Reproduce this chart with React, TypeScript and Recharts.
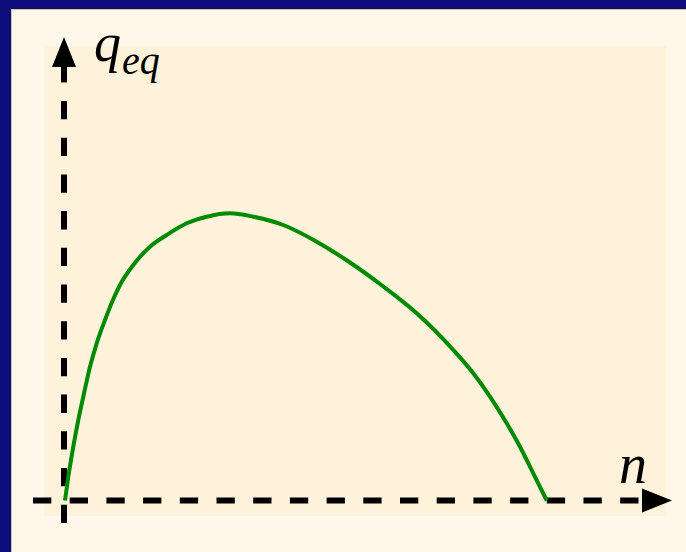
import { LineChart, Line, XAxis, YAxis, ReferenceLine } from 'recharts';

// curve: n along the x axis, q_eq up the y axis
const nValues = [0.01, 0.043, 0.093, 0.143, 0.193, 0.26, 0.327, 0.41, 0.487, 0.56, 0.693, 0.86, 1.027, 1.227, 1.427, 1.66, 1.893, 2.193, 2.527, 2.86, 3.193, 3.527, 3.893, 4.093, 4.26, 4.427, 4.56, 4.693, 4.827];
const qValues = [0, 0.238, 0.538, 0.805, 1.038, 1.338, 1.572, 1.805, 2.0, 2.155, 2.355, 2.538, 2.655, 2.772, 2.838, 2.872, 2.838, 2.755, 2.588, 2.38, 2.14, 1.872, 1.505, 1.272, 1.038, 0.772, 0.538, 0.272, 0];
const xDomain = [-0.31, 6.08];
const yDomain = [-0.225, 4.635];
const xLabel = 'n';
const yLabel = 'q';
const yLabelSub = 'eq';

const data = nValues.map((n, i) => ({ n, q: qValues[i] }));

const ARROW_LEN = 30;
const ARROW_HALF = 12;
const DASH = '18.3 18.4';
const labelFont = '"Liberation Serif", "DejaVu Serif", serif';

function XArrow(props: any) {
  const left = Math.min(props.x1, props.x2);
  const right = Math.max(props.x1, props.x2);
  const y = props.y1;
  return (
    <g>
      <line x1={left} y1={y} x2={right - ARROW_LEN} y2={y} stroke="#000" strokeWidth={6} strokeDasharray={DASH} />
      <polygon points={`${right},${y} ${right - ARROW_LEN},${y - ARROW_HALF} ${right - ARROW_LEN},${y + ARROW_HALF}`} fill="#000" />
      <text x={right - 53} y={y - 18} fontFamily={labelFont} fontStyle="italic" fontSize={56} fill="#000">
        {xLabel}
      </text>
    </g>
  );
}

function YArrow(props: any) {
  const top = Math.min(props.y1, props.y2);
  const bottom = Math.max(props.y1, props.y2);
  const x = props.x1;
  return (
    <g>
      <line x1={x} y1={bottom} x2={x} y2={top + ARROW_LEN} stroke="#000" strokeWidth={6} strokeDasharray={DASH} />
      <polygon points={`${x},${top} ${x - ARROW_HALF},${top + ARROW_LEN} ${x + ARROW_HALF},${top + ARROW_LEN}`} fill="#000" />
      <text x={x + 30} y={top + 24} fontFamily={labelFont} fontStyle="italic" fontSize={54} fill="#000">
        {yLabel}
        <tspan fontSize={40} dy={13} dx={1}>{yLabelSub}</tspan>
      </text>
    </g>
  );
}

export default function App() {
  return (
    <div style={{ position: 'fixed', left: 0, top: 0, width: 686, height: 552, background: '#0c0c7a', overflow: 'hidden' }}>
      <div style={{ position: 'absolute', left: 11, top: 9, right: 0, bottom: 0, background: '#fff8ea', borderLeft: '1px solid #d9c39a', borderTop: '1px solid #d9c39a' }} />
      <div style={{ position: 'absolute', left: 44, top: 46, width: 622, height: 470, background: '#fff2da' }} />
      <div style={{ position: 'absolute', left: 0, top: 0 }}>
        <LineChart width={686} height={552} data={data} margin={{ top: 37, right: 14, bottom: 29, left: 33 }}>
          <XAxis dataKey="n" type="number" domain={xDomain} hide allowDataOverflow />
          <YAxis type="number" domain={yDomain} hide allowDataOverflow />
          <ReferenceLine y={0} shape={XArrow} />
          <ReferenceLine x={0} shape={YArrow} />
          <Line type="monotone" dataKey="q" stroke="#008a00" strokeWidth={4} dot={false} isAnimationActive={false} />
        </LineChart>
      </div>
    </div>
  );
}
